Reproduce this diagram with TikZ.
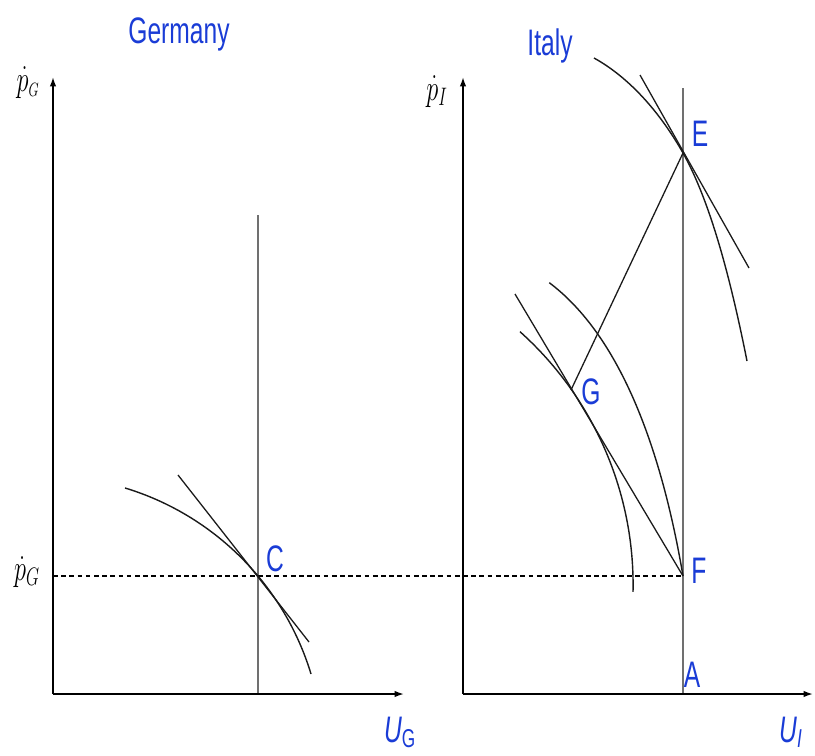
\documentclass[tikz,border=0pt]{standalone}
\usepackage{amsmath,amssymb}
\usepackage{graphicx}
\usepackage{fontspec}
\usetikzlibrary{arrows.meta,positioning,calc}
\newfontfamily\labfont{Liberation Sans}
\definecolor{ink}{HTML}{1A1A1A}
\definecolor{labblue}{HTML}{1A3CD6}
\definecolor{guide}{HTML}{707070}
\newcommand{\tall}[1]{\scalebox{1}[1.5]{#1}}

\begin{document}
\begin{tikzpicture}[x=0.03cm,y=-0.03cm,
    axis/.style={line width=1.4pt,-{Latex[length=8pt,width=5.5pt]}},
    curve/.style={draw=ink,line width=1.2pt},
    tang/.style={draw=ink,line width=1.1pt},
    vline/.style={draw=guide,line width=1.2pt},
    lab/.style={text=labblue,font=\labfont\fontsize{21}{25}\selectfont,anchor=base,inner sep=0pt},
    mlab/.style={font=\fontsize{22}{26}\selectfont,anchor=base,inner sep=0pt}]
  \useasboundingbox (0,0) rectangle (815,755);

  % points
  \coordinate (oG) at (53,694);
  \coordinate (yG) at (53,77);
  \coordinate (xG) at (404,694);
  \coordinate (oI) at (463,694);
  \coordinate (yI) at (463,77);
  \coordinate (xI) at (813,694);
  \coordinate (C) at (258,576);
  \coordinate (Ctop) at (258,215);
  \coordinate (Cbot) at (258,694);
  \coordinate (E) at (683,153);
  \coordinate (Etop) at (683,88);
  \coordinate (F) at (683,576);
  \coordinate (A) at (683,694);
  \coordinate (G) at (571,390);
  \coordinate (pGlev) at (53,576);

  % guides
  \draw[vline] (Ctop) -- (Cbot);
  \draw[vline] (Etop) -- (A);
  \draw[dashed,line width=1.1pt,dash pattern=on 4pt off 3pt] (pGlev) -- (F);

  % axes
  \draw[axis] (oG) -- (yG);
  \draw[axis] (oG) -- (xG);
  \draw[axis] (oI) -- (yI);
  \draw[axis] (oI) -- (xI);

  % Germany
  \coordinate (cC) at (43.8,755.2);
  \draw[curve] ($(cC)+(-73.1:279.3)$) arc[start angle=-73.1,end angle=-16.9,radius=279.3];
  \coordinate (tC1) at (178,475);
  \coordinate (tC2) at (309,642);
  \draw[tang] (tC1) -- (tC2);

  % Italy
  \draw[curve] (594,58) .. controls (631.6,78.8) and (661.8,115.5) .. (E)
    .. controls (712.5,205.3) and (732.9,290.4) .. (747,361);
  \coordinate (tE1) at (640,75);
  \coordinate (tE2) at (749,268);
  \draw[tang] (tE1) -- (tE2);
  \coordinate (cG) at (293.3,584.8);
  \draw[curve] ($(cG)+(-48.15:339.8)$) arc[start angle=-48.15,end angle=1.2,radius=339.8];
  \draw[curve] (549.3,282.7) .. controls (629.2,342.9) and (665.6,473.5) .. (F);
  \coordinate (tG) at (515,294);
  \draw[tang] (tG) -- (F);
  \draw[tang] (E) -- (G);

  % labels
  \node[lab] (germany) at (179,43) {\tall{Germany}};
  \node[lab] (italy) at (550,55) {\tall{Italy}};
  \node[lab] (labC) at (275,571) {\tall{C}};
  \node[lab] (labE) at (700,146) {\tall{E}};
  \node[lab] (labG) at (591,404) {\tall{G}};
  \node[lab] (labF) at (699,583) {\tall{F}};
  \node[lab] (labA) at (692,687) {\tall{A}};
  \node[lab] (labUG) at (400,742) {\tall{\itshape U\textsubscript{\upshape G}}};
  \node[lab] (labUI) at (791,742) {\tall{\itshape U\textsubscript{I}}};
  \node[mlab] (labpG) at (28,91) {\tall{$\dot p_{\scriptscriptstyle G}$}};
  \node[mlab] (labpI) at (437,100) {\tall{$\dot p_{I}$}};
  \node[mlab] (labpG2) at (27,580) {\tall{$\dot p_G$}};
\end{tikzpicture}
\end{document}
